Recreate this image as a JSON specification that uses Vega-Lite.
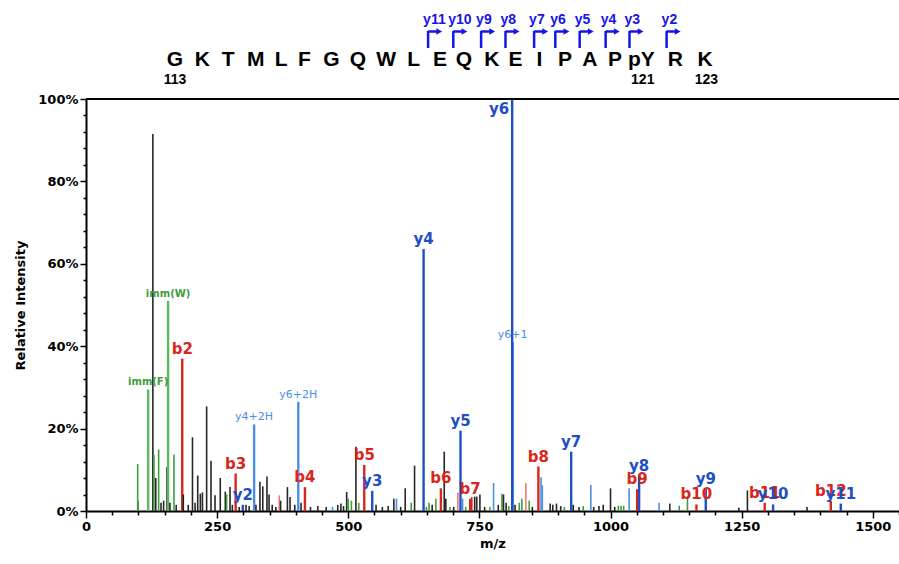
{
 "$schema": "https://vega.github.io/schema/vega-lite/v6.json",
 "background": "white",
 "padding": {"left": 14, "top": 4, "right": 0, "bottom": 0},
 "bounds": "flush",
 "spacing": 5,
 "config": {"view": {"stroke": null}, "font": "DejaVu Sans", "axis": {"labelOverlap": false, "labelSeparation": 0}},
 "datasets": {
  "residues": [
   {"pos": 0, "aa": "G"}, {"pos": 1.03, "aa": "K"}, {"pos": 2.0, "aa": "T"}, {"pos": 3.05, "aa": "M"},
   {"pos": 4.0, "aa": "L"}, {"pos": 4.88, "aa": "F"}, {"pos": 5.9, "aa": "G"}, {"pos": 6.9, "aa": "Q"},
   {"pos": 7.97, "aa": "W"}, {"pos": 9.0, "aa": "L"}, {"pos": 10.0, "aa": "E"}, {"pos": 10.9, "aa": "Q"},
   {"pos": 11.95, "aa": "K"}, {"pos": 12.85, "aa": "E"}, {"pos": 13.75, "aa": "I"}, {"pos": 14.72, "aa": "P"},
   {"pos": 15.65, "aa": "A"}, {"pos": 16.6, "aa": "P"}, {"pos": 17.6, "aa": "pY"}, {"pos": 18.88, "aa": "R"},
   {"pos": 20.0, "aa": "K"}
  ],
  "numbers": [
   {"pos": 0, "num": "113"}, {"pos": 17.65, "num": "121"}, {"pos": 20.05, "num": "123"}
  ],
  "ions": [
   {"ion": "y11", "bar": 9.55, "tip": 9.97},
   {"ion": "y10", "bar": 10.5, "tip": 10.92},
   {"ion": "y9", "bar": 11.55, "tip": 11.97},
   {"ion": "y8", "bar": 12.47, "tip": 12.89},
   {"ion": "y7", "bar": 13.55, "tip": 13.97},
   {"ion": "y6", "bar": 14.35, "tip": 14.77},
   {"ion": "y5", "bar": 15.27, "tip": 15.69},
   {"ion": "y4", "bar": 16.25, "tip": 16.67},
   {"ion": "y3", "bar": 17.15, "tip": 17.57},
   {"ion": "y2", "bar": 18.55, "tip": 18.97}
  ],
  "peaks": [
   {"mz": 98.5, "int": 11.4, "cat": "g"},
   {"mz": 99.5, "int": 2.5, "cat": "g"},
   {"mz": 118.5, "int": 29.5, "cat": "imm", "label": "imm(F)"},
   {"mz": 127.5, "int": 91.5, "cat": "u"},
   {"mz": 129.5, "int": 13.6, "cat": "g"},
   {"mz": 133, "int": 8, "cat": "u"},
   {"mz": 138.5, "int": 14.9, "cat": "g"},
   {"mz": 143, "int": 2, "cat": "u"},
   {"mz": 148, "int": 2.5, "cat": "u"},
   {"mz": 154.5, "int": 10.6, "cat": "u"},
   {"mz": 156.5, "int": 51, "cat": "imm", "label": "imm(W)"},
   {"mz": 160, "int": 2, "cat": "u"},
   {"mz": 167.7, "int": 13.7, "cat": "g"},
   {"mz": 172, "int": 1.5, "cat": "u"},
   {"mz": 183.5, "int": 37, "cat": "b", "label": "b2"},
   {"mz": 185.5, "int": 4, "cat": "u"},
   {"mz": 195, "int": 1.5, "cat": "u"},
   {"mz": 203, "int": 17.9, "cat": "u"},
   {"mz": 208, "int": 2, "cat": "u"},
   {"mz": 213, "int": 8.6, "cat": "u"},
   {"mz": 218, "int": 4.2, "cat": "u"},
   {"mz": 222, "int": 4.5, "cat": "u"},
   {"mz": 230, "int": 25.4, "cat": "u"},
   {"mz": 238.3, "int": 12.2, "cat": "u"},
   {"mz": 246, "int": 3.8, "cat": "u"},
   {"mz": 256, "int": 8, "cat": "u"},
   {"mz": 265.6, "int": 4.7, "cat": "u"},
   {"mz": 268, "int": 4, "cat": "g"},
   {"mz": 274.6, "int": 5.8, "cat": "u"},
   {"mz": 279, "int": 1.5, "cat": "u"},
   {"mz": 285.3, "int": 9.1, "cat": "b", "label": "b3"},
   {"mz": 292, "int": 1, "cat": "u"},
   {"mz": 299, "int": 1.5, "cat": "y", "label": "y2"},
   {"mz": 305, "int": 1.5, "cat": "u"},
   {"mz": 311, "int": 1.2, "cat": "u"},
   {"mz": 320.5, "int": 21, "cat": "yx", "label": "y4+2H"},
   {"mz": 324, "int": 1.5, "cat": "u"},
   {"mz": 331.6, "int": 7.1, "cat": "u"},
   {"mz": 337, "int": 6, "cat": "u"},
   {"mz": 345, "int": 8.4, "cat": "u"},
   {"mz": 349, "int": 4, "cat": "u"},
   {"mz": 355, "int": 1.5, "cat": "u"},
   {"mz": 362, "int": 1, "cat": "u"},
   {"mz": 368.5, "int": 3.8, "cat": "bx"},
   {"mz": 371, "int": 2.5, "cat": "u"},
   {"mz": 384, "int": 5.8, "cat": "u"},
   {"mz": 389, "int": 3.4, "cat": "u"},
   {"mz": 398, "int": 1.5, "cat": "u"},
   {"mz": 404.7, "int": 26.5, "cat": "yx", "label": "y6+2H"},
   {"mz": 410, "int": 2, "cat": "u"},
   {"mz": 417.4, "int": 5.8, "cat": "b", "label": "b4"},
   {"mz": 428, "int": 1, "cat": "u"},
   {"mz": 442, "int": 1.2, "cat": "u"},
   {"mz": 458, "int": 1, "cat": "u"},
   {"mz": 470, "int": 1, "cat": "yx"},
   {"mz": 480, "int": 1.5, "cat": "u"},
   {"mz": 486, "int": 1.8, "cat": "u"},
   {"mz": 491, "int": 1.2, "cat": "u"},
   {"mz": 497, "int": 4.6, "cat": "u"},
   {"mz": 500, "int": 3, "cat": "g"},
   {"mz": 506, "int": 2.5, "cat": "g"},
   {"mz": 514.6, "int": 15.6, "cat": "u"},
   {"mz": 520, "int": 2, "cat": "g"},
   {"mz": 530.5, "int": 11.2, "cat": "b", "label": "b5"},
   {"mz": 545.7, "int": 4.9, "cat": "y", "label": "y3"},
   {"mz": 553, "int": 1.5, "cat": "u"},
   {"mz": 565, "int": 1, "cat": "u"},
   {"mz": 576, "int": 1.2, "cat": "u"},
   {"mz": 587, "int": 3, "cat": "u"},
   {"mz": 592, "int": 3, "cat": "yx"},
   {"mz": 600, "int": 1, "cat": "u"},
   {"mz": 608.6, "int": 5.5, "cat": "u"},
   {"mz": 620, "int": 2, "cat": "g"},
   {"mz": 626.4, "int": 11, "cat": "u"},
   {"mz": 643.6, "int": 63.6, "cat": "y", "label": "y4"},
   {"mz": 649, "int": 1, "cat": "g"},
   {"mz": 654, "int": 2, "cat": "g"},
   {"mz": 660, "int": 1.5, "cat": "u"},
   {"mz": 667, "int": 3, "cat": "g"},
   {"mz": 676.6, "int": 5.5, "cat": "b", "label": "b6"},
   {"mz": 683, "int": 14.4, "cat": "u"},
   {"mz": 686, "int": 3, "cat": "u"},
   {"mz": 694, "int": 1, "cat": "g"},
   {"mz": 701, "int": 1, "cat": "u"},
   {"mz": 709, "int": 4.5, "cat": "bx"},
   {"mz": 714, "int": 19.5, "cat": "y", "label": "y5"},
   {"mz": 718, "int": 3, "cat": "yx"},
   {"mz": 724, "int": 1, "cat": "g"},
   {"mz": 732.5, "int": 3, "cat": "b", "label": "b7"},
   {"mz": 735.5, "int": 3.4, "cat": "b"},
   {"mz": 741, "int": 3.5, "cat": "u"},
   {"mz": 745, "int": 3.5, "cat": "u"},
   {"mz": 751, "int": 4, "cat": "u"},
   {"mz": 760, "int": 1, "cat": "u"},
   {"mz": 770, "int": 1, "cat": "g"},
   {"mz": 777, "int": 6.8, "cat": "yx"},
   {"mz": 786, "int": 1.5, "cat": "u"},
   {"mz": 793, "int": 4.2, "cat": "g"},
   {"mz": 796, "int": 4, "cat": "u"},
   {"mz": 801, "int": 2, "cat": "u"},
   {"mz": 806, "int": 1.2, "cat": "g"},
   {"mz": 813.5, "int": 41, "cat": "yx", "label": "y6+1"},
   {"mz": 812.5, "int": 100, "cat": "y", "label": "y6"},
   {"mz": 818, "int": 1.5, "cat": "u"},
   {"mz": 826, "int": 2, "cat": "g"},
   {"mz": 831, "int": 3, "cat": "g"},
   {"mz": 838.6, "int": 6.8, "cat": "bx"},
   {"mz": 845, "int": 2.5, "cat": "g"},
   {"mz": 851, "int": 1, "cat": "u"},
   {"mz": 862.5, "int": 10.8, "cat": "b", "label": "b8"},
   {"mz": 867.5, "int": 8.2, "cat": "yx"},
   {"mz": 870, "int": 6.2, "cat": "yx"},
   {"mz": 885, "int": 1.8, "cat": "u"},
   {"mz": 890, "int": 1.5, "cat": "u"},
   {"mz": 897, "int": 1.8, "cat": "u"},
   {"mz": 905, "int": 1.2, "cat": "u"},
   {"mz": 912, "int": 1, "cat": "g"},
   {"mz": 925, "int": 14.4, "cat": "y", "label": "y7"},
   {"mz": 929, "int": 1.5, "cat": "u"},
   {"mz": 940, "int": 1, "cat": "u"},
   {"mz": 948, "int": 1.2, "cat": "g"},
   {"mz": 962.5, "int": 6.3, "cat": "yx"},
   {"mz": 968, "int": 1, "cat": "u"},
   {"mz": 978, "int": 1.2, "cat": "u"},
   {"mz": 986, "int": 1.5, "cat": "u"},
   {"mz": 1000, "int": 5.5, "cat": "u"},
   {"mz": 1008, "int": 1, "cat": "u"},
   {"mz": 1015, "int": 1.3, "cat": "g"},
   {"mz": 1020, "int": 1.3, "cat": "g"},
   {"mz": 1025, "int": 1.3, "cat": "g"},
   {"mz": 1035.5, "int": 5.5, "cat": "yx"},
   {"mz": 1050.8, "int": 5.3, "cat": "b", "label": "b9"},
   {"mz": 1054.5, "int": 8.6, "cat": "y", "label": "y8"},
   {"mz": 1092.7, "int": 2, "cat": "yx"},
   {"mz": 1113, "int": 1.8, "cat": "u"},
   {"mz": 1131, "int": 1.3, "cat": "g"},
   {"mz": 1146.7, "int": 3, "cat": "g"},
   {"mz": 1163.8, "int": 1.6, "cat": "b", "label": "b10"},
   {"mz": 1181.6, "int": 5.3, "cat": "y", "label": "y9"},
   {"mz": 1244.6, "int": 0.8, "cat": "u"},
   {"mz": 1261, "int": 5, "cat": "u"},
   {"mz": 1294, "int": 2, "cat": "b", "label": "b11"},
   {"mz": 1310, "int": 1.6, "cat": "y", "label": "y10"},
   {"mz": 1374.7, "int": 1, "cat": "u"},
   {"mz": 1420, "int": 2.4, "cat": "b", "label": "b12"},
   {"mz": 1439, "int": 1.8, "cat": "y", "label": "y11"}
  ]
 },
 "vconcat": [
  {
   "width": 813,
   "height": 90,
   "layer": [
    {
     "data": {"name": "residues"},
     "mark": {"type": "text", "font": "Liberation Sans", "fontWeight": "bold", "fontSize": 21, "baseline": "middle", "color": "black"},
     "encoding": {
      "x": {"field": "pos", "type": "quantitative", "scale": {"domain": [-3.36, 27.32], "nice": false, "zero": false}, "axis": null},
      "y": {"datum": 34, "type": "quantitative", "scale": {"domain": [0, 90], "nice": false}, "axis": null},
      "text": {"field": "aa"}
     }
    },
    {
     "data": {"name": "numbers"},
     "mark": {"type": "text", "font": "Liberation Sans", "fontWeight": "bold", "fontSize": 14, "baseline": "middle", "color": "black"},
     "encoding": {
      "x": {"field": "pos", "type": "quantitative", "axis": null},
      "y": {"datum": 14, "type": "quantitative", "axis": null},
      "text": {"field": "num"}
     }
    },
    {
     "data": {"name": "ions"},
     "mark": {"type": "rule", "color": "#1515e6", "strokeWidth": 2.5},
     "encoding": {
      "x": {"field": "bar", "type": "quantitative", "axis": null},
      "y": {"datum": 46, "type": "quantitative", "axis": null},
      "y2": {"datum": 63}
     }
    },
    {
     "data": {"name": "ions"},
     "mark": {"type": "rule", "color": "#1515e6", "strokeWidth": 2.5},
     "encoding": {
      "x": {"field": "bar", "type": "quantitative", "axis": null},
      "x2": {"field": "tip"},
      "y": {"datum": 62.5, "type": "quantitative", "axis": null}
     }
    },
    {
     "data": {"name": "ions"},
     "mark": {"type": "point", "shape": "triangle-right", "filled": true, "size": 45, "color": "#1515e6", "opacity": 1},
     "encoding": {
      "x": {"field": "tip", "type": "quantitative", "axis": null},
      "y": {"datum": 62.5, "type": "quantitative", "axis": null}
     }
    },
    {
     "data": {"name": "ions"},
     "mark": {"type": "text", "font": "Liberation Sans", "fontWeight": "bold", "fontSize": 14, "baseline": "middle", "align": "left", "dx": -5, "color": "#1515e6"},
     "encoding": {
      "x": {"field": "bar", "type": "quantitative", "axis": null},
      "y": {"datum": 74, "type": "quantitative", "axis": null},
      "text": {"field": "ion"}
     }
    }
   ]
  },
  {
   "width": 813,
   "height": 412,
   "resolve": {"axis": {"x": "independent", "y": "independent"}},
   "layer": [
    {
     "data": {"name": "peaks"},
     "mark": {"type": "rule"},
     "encoding": {
      "x": {
       "field": "mz", "type": "quantitative",
       "scale": {"domain": [0, 1550], "nice": false, "zero": false},
       "axis": {
        "title": "m/z", "orient": "bottom",
        "values": [0,250,500,750,1000,1250,1500],
        "format": "d",
        "tickSize": 7,
        "labelFlush": false, "labelOverlap": false, "labelBound": false, "grid": false,
        "domainColor": "black", "domainWidth": 2, "tickColor": "black", "tickWidth": 1.5,
        "labelFont": "DejaVu Sans", "labelFontWeight": "bold", "labelFontSize": 13, "labelColor": "black", "labelPadding": 2,
        "titleFont": "DejaVu Sans", "titleFontWeight": "bold", "titleFontSize": 13, "titleColor": "black", "titlePadding": 4
       }
      },
      "y": {
       "field": "int", "type": "quantitative",
       "scale": {"domain": [0, 100], "nice": false},
       "axis": {
        "title": "Relative Intensity", "orient": "left",
        "values": [0,20,40,60,80,100],
        "labelExpr": "datum.value + '%'",
        "tickSize": 6,
        "labelOverlap": false, "labelBound": false, "grid": false,
        "domainColor": "black", "domainWidth": 2, "tickColor": "black", "tickWidth": 1.5,
        "labelFont": "DejaVu Sans", "labelFontWeight": "bold", "labelFontSize": 13, "labelColor": "black", "labelPadding": 2,
        "titleFont": "DejaVu Sans", "titleFontWeight": "bold", "titleFontSize": 13, "titleColor": "black", "titlePadding": 10
       }
      },
      "y2": {"datum": 0},
      "color": {
       "field": "cat", "type": "nominal",
       "scale": {"domain": ["u", "g", "imm", "b", "bx", "y", "yx"], "range": ["#262626", "#3f9c3f", "#5cb85c", "#d8261b", "#f07a6a", "#1f4fc4", "#4b8ee6"]},
       "legend": null
      },
      "strokeWidth": {"condition": {"test": "isValid(datum.label)", "value": 2.4}, "value": 1.6}
     }
    },
    {
     "data": {"name": "peaks"},
     "transform": [{"filter": "(datum.cat === 'b' || datum.cat === 'y') && isValid(datum.label) && datum.label !== 'y6'"}],
     "mark": {"type": "text", "font": "DejaVu Sans", "fontWeight": "bold", "fontSize": 15, "baseline": "bottom", "dy": -2},
     "encoding": {
      "x": {"field": "mz", "type": "quantitative", "axis": null},
      "y": {"field": "int", "type": "quantitative", "axis": null},
      "text": {"field": "label"},
      "color": {"field": "cat", "type": "nominal", "legend": null}
     }
    },
    {
     "data": {"name": "peaks"},
     "transform": [{"filter": "datum.label === 'y6'"}],
     "mark": {"type": "text", "font": "DejaVu Sans", "fontWeight": "bold", "fontSize": 15, "baseline": "top", "align": "right", "dx": -3, "dy": 3},
     "encoding": {
      "x": {"field": "mz", "type": "quantitative", "axis": null},
      "y": {"field": "int", "type": "quantitative", "axis": null},
      "text": {"field": "label"},
      "color": {"field": "cat", "type": "nominal", "legend": null}
     }
    },
    {
     "data": {"name": "peaks"},
     "transform": [{"filter": "datum.cat === 'imm'"}],
     "mark": {"type": "text", "font": "DejaVu Sans", "fontWeight": "bold", "fontSize": 10, "baseline": "bottom", "dy": -2, "color": "#3f9c3f"},
     "encoding": {
      "x": {
       "field": "mz", "type": "quantitative",
       "axis": {"orient": "bottom", "values": [50,100,150,200,300,350,400,450,550,600,650,700,800,850,900,950,1050,1100,1150,1200,1300,1350,1400,1450,1550], "labels": false, "domain": false, "grid": false, "title": null, "tickSize": 4, "tickColor": "black", "tickWidth": 1.5}
      },
      "y": {
       "field": "int", "type": "quantitative",
       "axis": {"orient": "left", "values": [4,8,12,16,24,28,32,36,44,48,52,56,64,68,72,76,84,88,92,96], "labels": false, "domain": false, "grid": false, "title": null, "tickSize": 3, "tickColor": "black", "tickWidth": 1.5}
      },
      "text": {"field": "label"}
     }
    },
    {
     "data": {"name": "peaks"},
     "transform": [{"filter": "datum.cat === 'yx' && isValid(datum.label)"}],
     "mark": {"type": "text", "font": "DejaVu Sans", "fontSize": 11, "baseline": "bottom", "dy": -2},
     "encoding": {
      "x": {"field": "mz", "type": "quantitative", "axis": null},
      "y": {"field": "int", "type": "quantitative", "axis": null},
      "text": {"field": "label"},
      "color": {"field": "cat", "type": "nominal", "legend": null}
     }
    },
    {
     "data": {"values": [{}]},
     "mark": {"type": "rule", "color": "black", "strokeWidth": 2},
     "encoding": {"y": {"datum": 100, "type": "quantitative", "axis": null}}
    }
   ]
  }
 ]
}
